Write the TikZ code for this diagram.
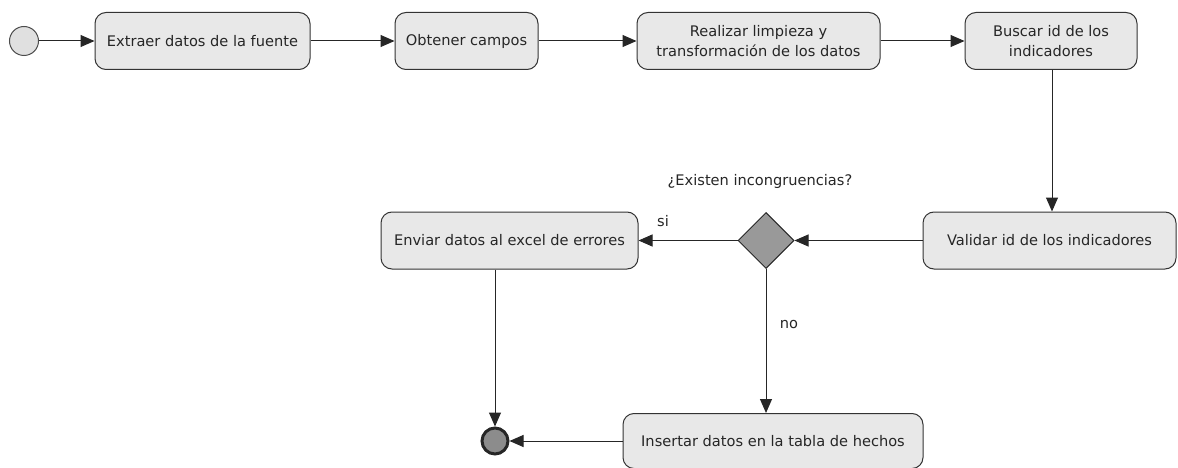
\documentclass[tikz,border=0pt]{standalone}
\usepackage{fontspec}
\setmainfont{DejaVu Sans}
\usetikzlibrary{shapes.geometric,arrows.meta}
\begin{document}
\begin{tikzpicture}[x=1pt,y=-1pt,
  act/.style={draw=black!80,line width=1pt,rounded corners=11pt,fill=black!9,
    minimum height=57pt,align=center,font=\fontsize{14.6}{20}\selectfont,inner sep=0pt,text=black!85},
  flow/.style={draw=black!85,line width=1pt,-{Triangle[length=14pt,width=12pt]}},
  lbl/.style={font=\fontsize{14.6}{18}\selectfont,text=black!85}]
\useasboundingbox (0,0) rectangle (1178,468);
\node[draw=black!70,line width=1pt,fill=black!12,circle,minimum size=29pt,inner sep=0pt] (start) at (24,41) {};
\node[act,minimum width=215pt] (a) at (202.5,41) {Extraer datos de la fuente};
\node[act,minimum width=143pt] (b) at (466.5,41) {Obtener campos};
\node[act,minimum width=243pt] (c) at (758.5,41) {Realizar limpieza y\\transformación de los datos};
\node[act,minimum width=172pt] (d) at (1051,41) {Buscar id de los\\indicadores};
\node[act,minimum width=253pt] (e) at (1049.5,240.5) {Validar id de los indicadores};
\node[draw=black!85,line width=1pt,fill=black!40,diamond,minimum width=56pt,minimum height=56pt,inner sep=0pt] (dec) at (766,240.5) {};
\node[act,minimum width=257pt] (f) at (509.5,240.5) {Enviar datos al excel de errores};
\node[act,minimum width=300pt,minimum height=55pt] (g) at (773,441) {Insertar datos en la tabla de hechos};
\node[draw=black!85,line width=3pt,fill=black!45,circle,minimum size=26pt,inner sep=0pt] (end) at (495,441) {};
\node[lbl] (q) at (760,181) {¿Existen incongruencias?};
\node[lbl] (si) at (663,221) {si};
\node[lbl] (no) at (789,325) {no};
\draw[flow] (start) -- (a);
\draw[flow] (a) -- (b);
\draw[flow] (b) -- (c);
\draw[flow] (c) -- (d);
\draw[flow] (d.south -| 1052,0) -- (e.north -| 1052,0);
\draw[flow] (e) -- (dec);
\draw[flow] (dec) -- (f);
\draw[flow] (dec) -- (dec |- g.north);
\draw[flow] (f.south -| end) -- (end);
\draw[flow] (g) -- (end);
\end{tikzpicture}
\end{document}
